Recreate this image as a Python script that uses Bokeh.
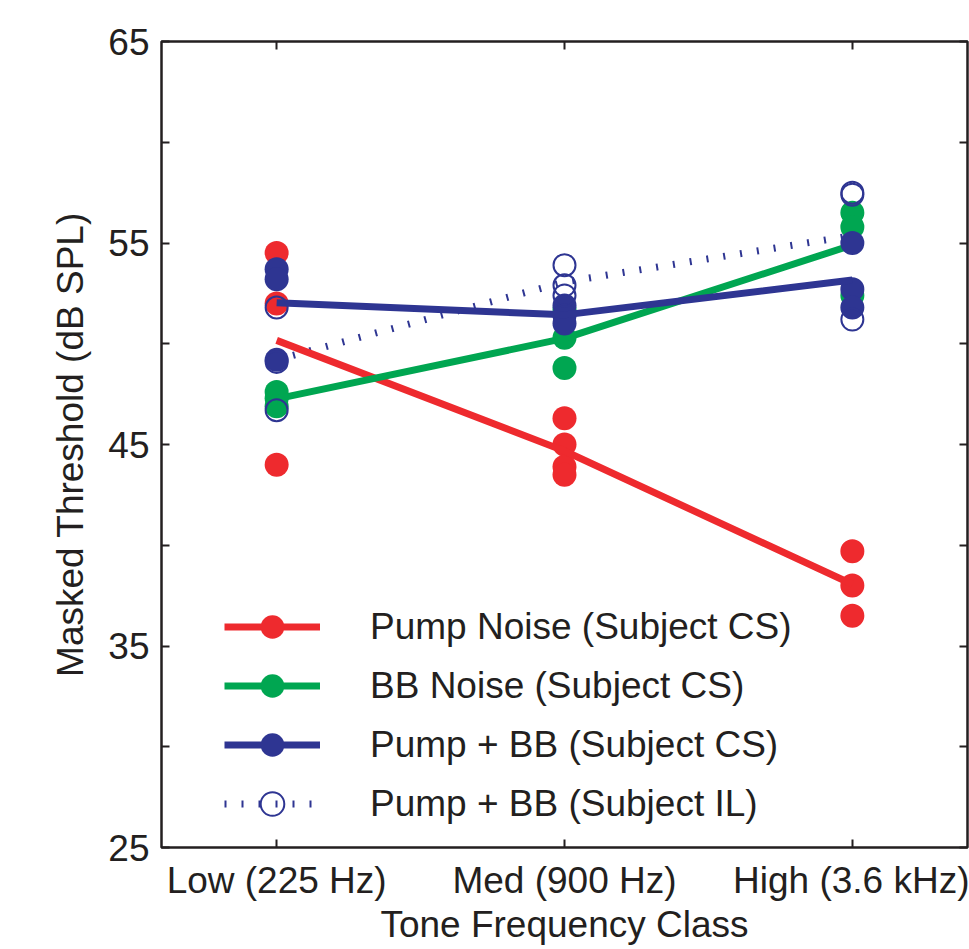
from bokeh.plotting import figure
from bokeh.models import (FixedTicker, LinearAxis, Legend, LegendItem, ColumnDataSource)
from bokeh.embed import file_html
from bokeh.resources import INLINE

# ---- data ----
categories = ["Low (225 Hz)", "Med (900 Hz)", "High (3.6 kHz)"]
cat_pos = [1, 2, 3]

pump_low = [54.5, 52.0, 44.0]
pump_med = [46.3, 45.0, 43.9, 43.5]
pump_high = [39.7, 38.0, 36.5]

bb_low = [47.6, 47.3, 46.9]
bb_med = [51.7, 50.3, 48.8]
bb_high = [56.5, 55.8, 52.4]

pbb_cs_low = [53.7, 53.2, 49.2]
pbb_cs_med = [51.9, 51.4, 51.0]
pbb_cs_high = [55.0, 52.7, 51.8]

pbb_il_low = [51.8, 49.1, 46.7]
pbb_il_med = [53.9, 52.9, 52.4]
pbb_il_high = [57.5, 57.4, 51.2]

y_major = [25, 35, 45, 55, 65]
y_minor = [30, 40, 50, 60]

RED = "#EE2A2E"
GREEN = "#00A651"
BLUE = "#2E3592"
INK = "#231F20"
FONT = "Liberation Sans"
FS = "37px"


def points(groups):
    xs, ys = [], []
    for pos, vals in zip(cat_pos, groups):
        xs += [pos] * len(vals)
        ys += list(vals)
    return ColumnDataSource(dict(x=xs, y=ys))


def means(groups):
    return ColumnDataSource(dict(x=cat_pos, y=[sum(v) / len(v) for v in groups]))


p = figure(width=969, height=943, x_range=(0.6, 3.4), y_range=(25, 65),
           output_backend="svg", toolbar_location=None,
           min_border_left=161, min_border_right=2, min_border_top=41,
           min_border_bottom=96, frame_width=806, frame_height=806)
p.xgrid.visible = False
p.ygrid.visible = False
p.outline_line_color = INK
p.outline_line_width = 2.5
p.outline_line_alpha = 1.0
p.background_fill_color = "white"
p.border_fill_color = "white"

# axes
p.xaxis.ticker = FixedTicker(ticks=cat_pos)
p.xaxis.major_label_overrides = {pos: lab for pos, lab in zip(cat_pos, categories)}
p.yaxis.ticker = FixedTicker(ticks=y_major, minor_ticks=y_minor)
for ax in (p.xaxis[0], p.yaxis[0]):
    ax.axis_line_color = None
    ax.major_tick_in = 8
    ax.major_tick_out = 0
    ax.minor_tick_in = 8
    ax.minor_tick_out = 0
    ax.major_tick_line_color = INK
    ax.minor_tick_line_color = INK
    ax.major_tick_line_width = 2
    ax.minor_tick_line_width = 2
    ax.major_label_text_font = FONT
    ax.major_label_text_font_size = FS
    ax.major_label_text_color = INK
    ax.axis_label_text_font = FONT
    ax.axis_label_text_font_size = FS
    ax.axis_label_text_font_style = "normal"
    ax.axis_label_text_color = INK
p.xaxis.axis_label = "Tone Frequency Class"
p.yaxis.axis_label = "Masked Threshold (dB SPL)"
p.xaxis.major_label_standoff = 12
p.xaxis.axis_label_standoff = 0
p.yaxis.major_label_standoff = 12
p.yaxis.axis_label_standoff = 14
p.xaxis.minor_tick_line_color = None

# box ticks on top and right (no labels drawn)
top = LinearAxis(ticker=FixedTicker(ticks=cat_pos), major_tick_in=8, major_tick_out=0,
                 minor_tick_line_color=None, axis_line_color=None,
                 major_tick_line_color=INK, major_tick_line_width=2,
                 major_label_text_color=None, major_label_text_font_size="1px",
                 major_label_standoff=0)
right = LinearAxis(ticker=FixedTicker(ticks=y_major, minor_ticks=y_minor),
                   major_tick_in=8, major_tick_out=0, minor_tick_in=8, minor_tick_out=0,
                   axis_line_color=None, major_tick_line_color=INK, minor_tick_line_color=INK,
                   major_tick_line_width=2, minor_tick_line_width=2,
                   major_label_text_color=None, major_label_text_font_size="1px",
                   major_label_standoff=0)
p.add_layout(top, "above")
p.add_layout(right, "right")

# series
il_line = p.line("x", "y", source=means([pbb_il_low, pbb_il_med, pbb_il_high]),
                 line_color=BLUE, line_width=7, line_dash="2 15", line_cap="butt")

r_pts = p.scatter("x", "y", source=points([pump_low, pump_med, pump_high]),
                  size=24, fill_color=RED, line_color=None)
r_line = p.line("x", "y", source=means([pump_low, pump_med, pump_high]),
                line_color=RED, line_width=7)

g_pts = p.scatter("x", "y", source=points([bb_low, bb_med, bb_high]),
                  size=24, fill_color=GREEN, line_color=None)
g_line = p.line("x", "y", source=means([bb_low, bb_med, bb_high]),
                line_color=GREEN, line_width=7)

b_pts = p.scatter("x", "y", source=points([pbb_cs_low, pbb_cs_med, pbb_cs_high]),
                  size=24, fill_color=BLUE, line_color=None)
b_line = p.line("x", "y", source=means([pbb_cs_low, pbb_cs_med, pbb_cs_high]),
                line_color=BLUE, line_width=7)

il_pts = p.scatter("x", "y", source=points([pbb_il_low, pbb_il_med, pbb_il_high]),
                   size=22, fill_color=None, line_color=BLUE, line_width=2)

legend = Legend(items=[
    LegendItem(label="Pump Noise (Subject CS)", renderers=[r_line, r_pts]),
    LegendItem(label="BB Noise (Subject CS)", renderers=[g_line, g_pts]),
    LegendItem(label="Pump + BB (Subject CS)", renderers=[b_line, b_pts]),
    LegendItem(label="Pump + BB (Subject IL)", renderers=[il_line, il_pts]),
], location=(63, 14), padding=0, margin=0, spacing=0,
    glyph_width=96, glyph_height=59, label_height=59, label_standoff=50,
    label_text_font=FONT, label_text_font_size=FS, label_text_color=INK,
    border_line_color=None, background_fill_alpha=0)
p.add_layout(legend, "center")

open("out.html", "w").write(file_html(p, INLINE))
